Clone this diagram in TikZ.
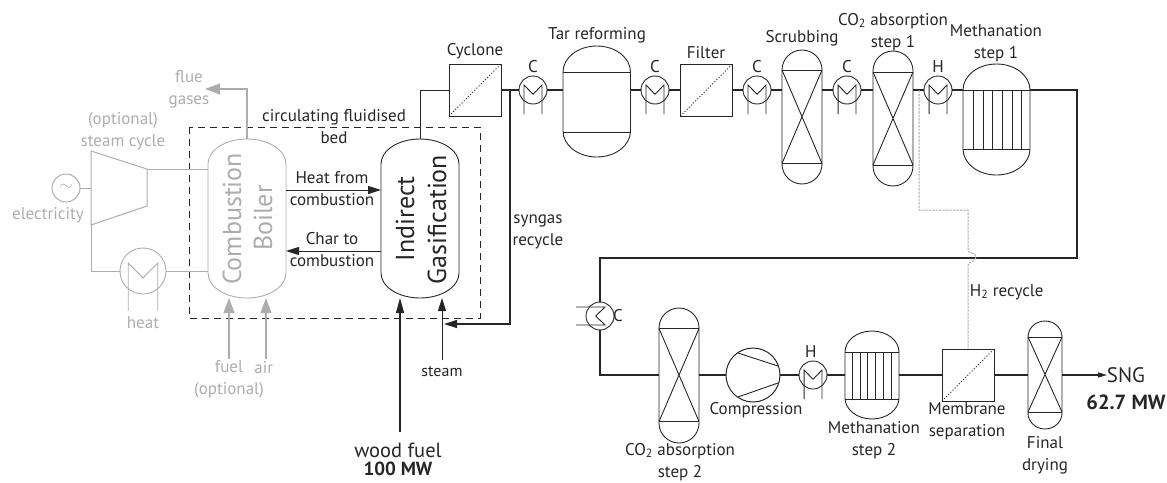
\documentclass[tikz,border=0pt]{standalone}
\usepackage{fontspec}
\setmainfont{PT Sans}
\usetikzlibrary{arrows.meta,calc}

\definecolor{pale}{gray}{0.68}
\definecolor{ink}{gray}{0.15}

\tikzset{
    lbl/.style={inner sep=0pt, align=center, text=ink, font=\fontsize{17}{22}\selectfont},
    palelbl/.style={lbl, text=pale},
    biglbl/.style={lbl, rotate=90, font=\fontsize{26}{30}\selectfont},
    unit/.style={draw=ink, line width=0.9pt},
    pipe/.style={draw=ink, line width=1.25pt},
    feed/.style={pipe, line width=1pt, -{Triangle[length=13pt,width=8pt]}},
    palefeed/.style={draw=pale, line width=1.2pt, -{Triangle[length=15pt,width=11pt]}},
    box/.style={draw=ink, line width=1pt, minimum size=52pt, inner sep=0pt, outer sep=0pt},
    ring/.style={circle, inner sep=0pt, outer sep=0pt}
}

% name, left, right, top, bottom, cap, colour
\newcommand{\shell}[7]{
    \node[inner sep=0pt, outer sep=0pt, minimum width={(#3-#2)*1pt}, minimum height={(#5-#4)*1pt}] (#1) at ({(#2+#3)/2},{(#4+#5)/2}) {};
    \draw[unit, draw=#7] (#2,#4+#6) arc[start angle=180, end angle=0, x radius={(#3-#2)/2*1pt}, y radius=#6pt]
        -- (#3,#5-#6) arc[start angle=0, end angle=-180, x radius={(#3-#2)/2*1pt}, y radius=#6pt] -- cycle;
}
% name, left, right, top, bottom, cap, upper band, lower band
\newcommand{\vessel}[8]{
    \shell{#1}{#2}{#3}{#4}{#5}{#6}{ink}
    \coordinate (#1-tl) at (#2,#7);
    \coordinate (#1-tr) at (#3,#7);
    \coordinate (#1-bl) at (#2,#8);
    \coordinate (#1-br) at (#3,#8);
    \draw[unit] (#1-tl) -- (#1-tr) (#1-bl) -- (#1-br);
}
% name, x, y, radius, colour, turn
\newcommand{\exch}[6]{
    \node[ring, draw=#5, line width=0.9pt, minimum size={2*#4*1pt}] (#1) at (#2,#3) {};
    \begin{scope}[shift={(#2,#3)}, rotate=#6]
        \draw[draw=#5, line width=0.9pt] (-0.64*#4,1.72*#4) -- (-0.64*#4,-0.35*#4) -- (0,0.3*#4) -- (0.64*#4,-0.35*#4) -- (0.64*#4,1.72*#4);
    \end{scope}
}

\begin{document}
\begin{tikzpicture}[x=1pt,y=-1pt]
    \useasboundingbox (0,0) rectangle (1167,482);

    % --- Indirect gasifier block ---
    \draw[ink, line width=1pt, dash pattern=on 7pt off 5pt] (189,127) rectangle (480,318);
    \shell{boiler}{208}{286}{139}{298}{25}{pale}
    \shell{gasifier}{381}{459}{139}{298}{25}{ink}
    \node[biglbl, text=pale] (combust) at (232,219) {Combustion};
    \node[biglbl, text=pale] (boilertxt) at (263,218) {Boiler};
    \node[biglbl] (indirect) at (405,219) {Indirect};
    \node[biglbl] (gasif) at (437,219.5) {Gasification};

    \draw[feed] (boiler.east |- 0,190) -- (gasifier.west |- 0,190);
    \draw[feed] (gasifier.west |- 0,251) -- (boiler.east |- 0,251);

    % --- Steam cycle ---
    \coordinate (shaft) at (147,169);
    \coordinate (shaftin) at (91,188);
    \coordinate (cond) at (91,271);
    \draw[pale, line width=1pt] (91,151) -- (shaft) -- (147,206) -- (91,225) -- cycle;
    \node[ring, draw=pale, line width=1pt, minimum size=28pt] (gen) at (66,188) {};
    \node[palelbl, font=\fontsize{19}{19}\selectfont] (wave) at (66,187) {$\sim$};
    \exch{heater}{143}{271}{23}{pale}{0}
    \draw[pale, line width=1pt] (gen.east) -- (shaftin);
    \draw[pale, line width=1pt] (shaft) -- (boiler.west |- shaft);
    \draw[pale, line width=1pt] (91,225) -- (cond) -- (heater.west);
    \draw[pale, line width=1pt] (heater.east) -- (boiler.west |- heater.east);

    % --- Gasifier flows ---
    \coordinate (flueA) at (247,89);
    \coordinate (flueB) at (205,89);
    \draw[palefeed] (boiler.north) -- (flueA) -- (flueB);
    \draw[palefeed] (229,359) -- (229,298);
    \draw[palefeed] (266,359) -- (266,298);
    \draw[pipe, line width=1.4pt, -{Triangle[length=15pt,width=8pt]}] (400,432) -- (400,298);
    \draw[feed] (442,360) -- (442,298);
    \coordinate (gasA) at (420,90);

    % --- Cleaning line ---
    \node[box] (cyclone) at (475,90) {};
    \node[box] (filter) at (706.5,90) {};
    \draw[dotted, line width=1pt, ink] (cyclone.south west) -- (cyclone.north east);
    \draw[dotted, line width=1pt, ink] (filter.south west) -- (filter.north east);

    \exch{hexA}{533}{90}{14}{ink}{0}
    \exch{hexB}{655}{90}{14}{ink}{0}
    \exch{hexC}{757}{90}{14}{ink}{0}
    \exch{hexD}{847}{90}{14}{ink}{0}
    \exch{hexE}{938}{90}{14}{ink}{0}
    \exch{hexF}{600}{316}{14}{ink}{-90}
    \exch{hexG}{813}{375}{14}{ink}{0}

    \vessel{tar}{563}{630.5}{46}{157}{26}{72}{132}
    \vessel{scrub}{782}{822}{50}{184}{20}{70}{163.5}
    \vessel{absA}{873}{913}{51}{186}{20}{72}{165}
    \vessel{absB}{659}{699}{308}{443}{20}{328.5}{421.5}
    \vessel{dry}{1028}{1062}{321}{429}{16}{337}{412}
    \vessel{methA}{963}{1030}{64}{175}{26}{90}{149}
    \vessel{methB}{845}{899}{331}{419}{21}{352}{399}

    \foreach \v in {scrub,absA,absB,dry} {
        \draw[unit] (\v-tl) -- (\v-br) (\v-tr) -- (\v-bl);
    }
    \foreach \x in {973,983,992,1002,1012,1021} {
        \draw[unit] (\x,90) -- (\x,149);
    }
    \foreach \x in {852,860,867,875,883,891} {
        \draw[unit] (\x,352) -- (\x,399);
    }

    % Compressor
    \node[ring, draw=ink, line width=1pt, minimum size=54pt] (comp) at (753,375) {};
    \draw[unit] (738,353) -- (778,366) (738,397) -- (778,383);

    \node[box] (membrane) at (968,375) {};
    \draw[dotted, line width=1pt, ink] (membrane.south west) -- (membrane.north east);

    % --- Pipes ---
    \coordinate (turnA) at (1077,90);
    \coordinate (turnB) at (1077,258);
    \coordinate (turnC) at (600,258);
    \coordinate (turnD) at (600,375);
    \coordinate (recycA) at (510,90);
    \coordinate (recycB) at (510,324);
    \coordinate (recycC) at (444,324);
    \coordinate (sng) at (1107,375);

    \draw[pipe, line width=1pt] (gasifier.north) -- (gasA) -- (cyclone.west);
    \draw[pipe] (cyclone.east) -- (hexA.west);
    \draw[pipe] (hexA.east) -- (hexA.east -| tar.west);
    \draw[pipe] (tar.east |- hexB.west) -- (hexB.west);
    \draw[pipe] (hexB.east) -- (filter.west);
    \draw[pipe] (filter.east) -- (hexC.west);
    \draw[pipe] (hexC.east) -- (hexC.east -| scrub.west);
    \draw[pipe] (scrub.east |- hexD.west) -- (hexD.west);
    \draw[pipe] (hexD.east) -- (hexD.east -| absA.west);
    \draw[pipe] (absA.east |- hexE.west) -- (hexE.west);
    \draw[pipe] (hexE.east) -- (hexE.east -| methA.west);
    \draw[pipe] (methA-tr) -- (turnA) -- (turnB) -- (turnC) -- (hexF.north);
    \draw[pipe] (hexF.south) -- (turnD) -- (turnD -| absB.west);
    \draw[pipe] (absB.east |- comp.west) -- (comp.west);
    \draw[pipe] (comp.east) -- (hexG.west);
    \draw[pipe] (hexG.east) -- (hexG.east -| methB.west);
    \draw[pipe] (methB.east |- membrane.west) -- (membrane.west);
    \draw[pipe] (membrane.east) -- (membrane.east -| dry.west);
    \draw[pipe, -{Triangle[length=9pt,width=5pt]}] (dry.east |- membrane.east) -- (sng);
    \draw[pipe, -{Triangle[length=13pt,width=8pt]}] (recycA) -- (recycB) -- (recycC);

    % H2 recycle
    \coordinate (tapA) at (919,90);
    \coordinate (tapB) at (919,210);
    \coordinate (tapC) at (968,210);
    \coordinate (tapD) at (968,250);
    \coordinate (tapE) at (968,265);
    \draw[pale, line width=1pt, dash pattern=on 2.5pt off 1pt] (tapA) -- (tapB) -- (tapC) -- (tapD)
        .. controls (968,254) and (976,252) .. (976,257)
        .. controls (976,262) and (968,262) .. (tapE) -- (membrane.north);

    % --- Labels ---
    \foreach \n/\x/\y/\t in {
        tCycl/475/51/Cyclone,
        tTar/597/35/Tar reforming,
        tFilt/706/53/Filter,
        tScrub/802/38/Scrubbing,
        tAbsA/893/32/{CO\textsubscript{2} absorption\\step 1},
        tMethA/996/43/{Methanation\\step 1},
        tHeat/332/189/{Heat from\\combustion},
        tChar/332/250/{Char to\\combustion},
        tBed/334/127/{circulating fluidised\\bed},
        tAbsB/680/462/{CO\textsubscript{2} absorption\\step 2},
        tComp/756/410/Compression,
        tMethB/874/440/{Methanation\\step 2},
        tMemb/967/421/{Membrane\\separation},
        tDry/1045/455/{Final\\drying},
        tH/1009/292/{H\textsubscript{2} recycle}
    } {
        \node[lbl] (\n) at (\x,\y) {\t};
    }
    \foreach \n/\x/\y/\t in {
        cA/533/67/C, cB/655/67/C, cC/757/67/C, cD/847/67/C,
        hA/938/67/H, cE/618/316/C, hB/813/352/H
    } {
        \node[lbl] (\n) at (\x,\y) {\t};
    }
    \foreach \n/\x/\y/\t in {
        tFlue/189/89/{flue\\gases},
        tCycle/123/131/{(optional)\\steam cycle},
        tElec/48/215/electricity,
        tWarm/143/323/heat,
        tFuel/229/379/{fuel\\(optional)},
        tAir/266/368/air
    } {
        \node[palelbl] (\n) at (\x,\y) {\t};
    }
    \node[lbl, font=\fontsize{16}{21}\selectfont] (tSteam) at (442,372) {steam};
    \node[lbl] (tSyn) at (538,232) {syngas\\recycle};
    \node[lbl, font=\fontsize{20.5}{23}\selectfont] (tWood) at (398,450) {wood fuel};
    \node[lbl, font=\fontsize{19}{22}\bfseries] (tMW) at (398,469) {100 MW};
    \node[lbl, font=\fontsize{21}{24}\selectfont] (tSNG) at (1126,375) {SNG};
    \node[lbl, font=\fontsize{20.5}{22}\bfseries] (tOut) at (1126,402) {62.7 MW};
\end{tikzpicture}
\end{document}
